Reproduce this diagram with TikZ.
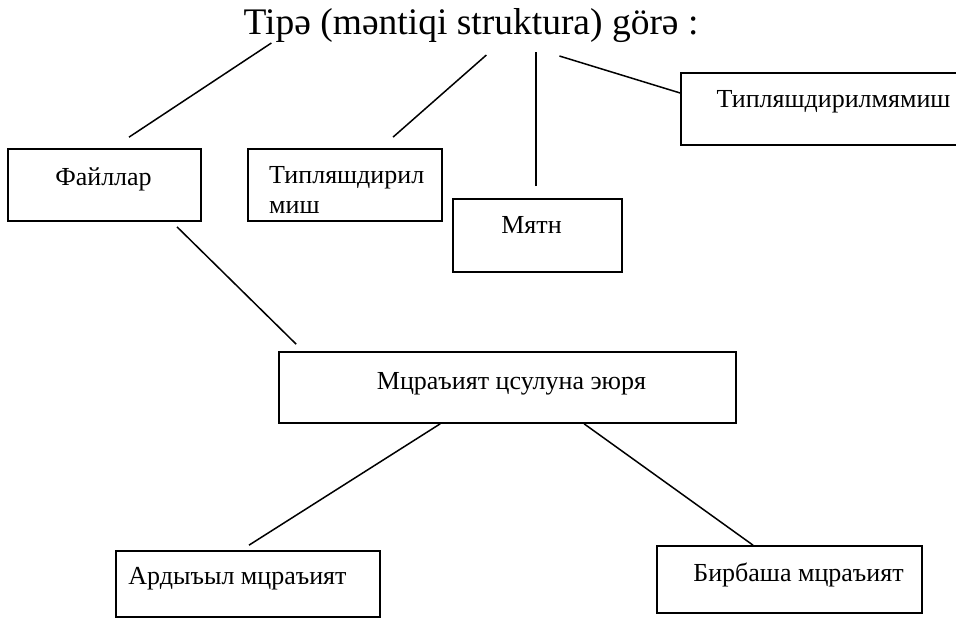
\documentclass[tikz,border=0pt]{standalone}
\usepackage{fontspec}
\setmainfont{Liberation Serif}
\usetikzlibrary{calc}
\begin{document}
\begin{tikzpicture}[x=1pt,y=-1pt,
  box/.style={draw, line width=1.7pt, inner sep=0pt},
  txt/.style={inner sep=0pt, anchor=base, font=\fontsize{26}{28}\selectfont},
  link/.style={line width=1.5pt}]
\useasboundingbox (0,0) rectangle (956,618);
\clip (0,0) rectangle (956,618);

% heading
\node[inner sep=0pt, anchor=base, font=\fontsize{37.5}{40}\selectfont] (ttl) at (471,35) {Tipə (məntiqi struktura) görə :};

% upper row of boxes
\node[box, minimum width=193pt, minimum height=72pt] (fl) at (104.5,185) {};
\node[box, minimum width=194pt, minimum height=72pt] (tp) at (345,185) {};
\node[box, minimum width=169pt, minimum height=73pt] (mt) at (537.5,235.5) {};
\node[box, minimum width=300pt, minimum height=72pt] (tn) at (831,109) {};

% middle and lower boxes
\node[box, minimum width=457pt, minimum height=71pt] (mr) at (507.5,387.5) {};
\node[box, minimum width=264pt, minimum height=66pt] (ad) at (248,584) {};
\node[box, minimum width=265pt, minimum height=67pt] (bb) at (789.5,579.5) {};

% box texts
\node[txt] (fl-t) at (103.5,185) {Файллар};
\node[txt, anchor=base west] (tp-t1) at (269,183) {Типляшдирил};
\node[txt, anchor=base west] (tp-t2) at (269,213) {миш};
\node[txt] (mt-t) at (531.5,233) {Мятн};
\node[txt] (tn-t) at (833.5,107) {Типляшдирилмямиш};
\node[txt] (mr-t) at (511.5,389) {Мцраъият цсулуна эюря};
\node[txt] (ad-t) at (237.5,584) {Ардыъыл мцраъият};
\node[txt] (bb-t) at (798.5,581) {Бирбаша мцраъият};

% connectors from the heading
\draw[link] ($(ttl.base west)+(28,8)$) -- ($(fl.north)+(24.5,-11)$);
\draw[link] ($(ttl.base west)+(243,20)$) -- ($(tp.north)+(48,-11)$);
\draw[link] ($(mt.north)+(-1.5,-12)$) -- ++(0,-134);
\draw[link] ($(ttl.base west)+(316,21)$) -- ($(tn.west)+(0,-16)$);

% connectors of the lower tree
\draw[link] ($(fl.south)+(72.5,5)$) -- ($(mr.north west)+(18,-7)$);
\draw[link] ($(mr.south west)+(162,0)$) -- ($(ad.north)+(1,-5)$);
\draw[link] ($(mr.south west)+(306,0)$) -- ($(bb.north)+(-36.5,0)$);
\end{tikzpicture}
\end{document}
